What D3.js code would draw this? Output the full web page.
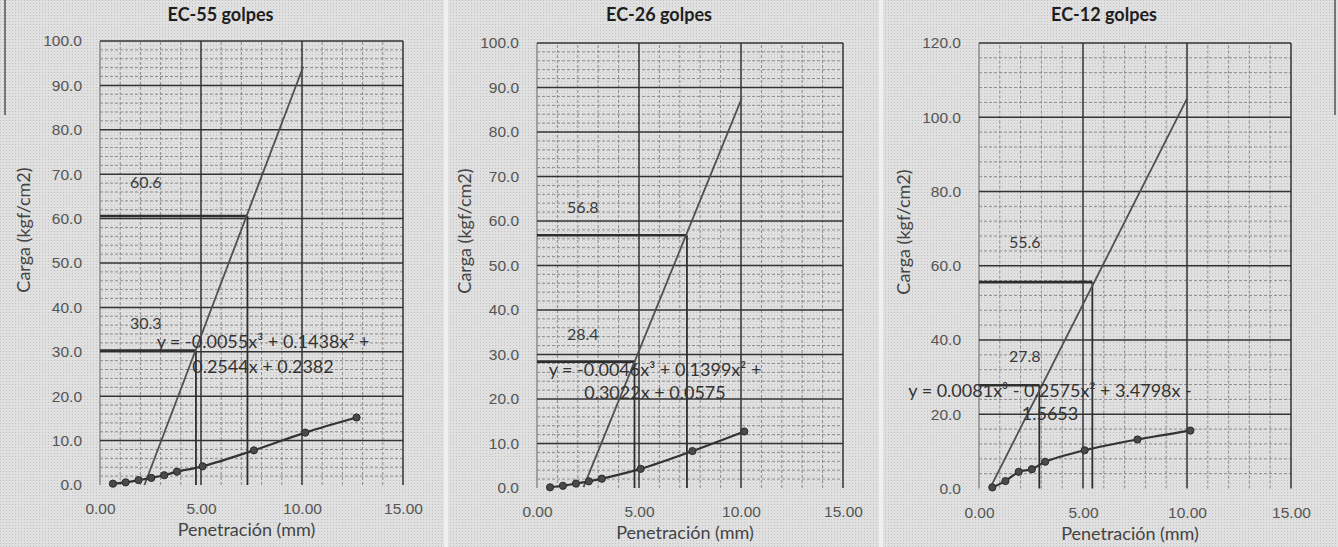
<!DOCTYPE html>
<html>
<head>
<meta charset="utf-8">
<script src="https://cdn.jsdelivr.net/npm/d3@7"></script>
<style>
  html, body { margin: 0; padding: 0; background: #dfdfdf; }
  svg { display: block; font-family: Lato, "Open Sans", sans-serif; }
</style>
</head>
<body>
<svg id="chart" width="1338" height="547"></svg>
<script>
// CBR penetration test, three compaction energies
// penetration (mm) and load (kgf/cm2)
var pen55  = [0.64, 1.27, 1.91, 2.54, 3.18, 3.81, 5.08, 7.62, 10.16, 12.70];
var load55 = [0.3, 0.6, 1.1, 1.6, 2.2, 3.0, 4.2, 7.8, 11.8, 15.2];
var pen26  = [0.64, 1.27, 1.91, 2.54, 3.18, 5.08, 7.62, 10.16];
var load26 = [0.15, 0.5, 1.0, 1.5, 2.1, 4.3, 8.3, 12.7];
var pen12  = [0.64, 1.27, 1.91, 2.54, 3.18, 5.08, 7.62, 10.16];
var load12 = [0.3, 2.0, 4.5, 5.2, 7.2, 10.3, 13.2, 15.6];

// corrected tangent line (start / end) for each test
var tan55X = [2.2, 10.06],  tan55Y = [0, 94.2];
var tan26X = [2.28, 10.04], tan26Y = [0.2, 87.6];
var tan12X = [0.55, 10.0],  tan12Y = [0.3, 105.0];

// corrected loads at 0.1" and 0.2" and the penetration where they sit
var cbr55Pen = [4.75, 7.30], cbr55Load = [30.3, 60.6];
var cbr26Pen = [4.78, 7.35], cbr26Load = [28.4, 56.8];
var cbr12Pen = [2.90, 5.45], cbr12Load = [27.8, 55.6];

// trendline equations as Excel printed them
var eq55 = ["y = -0.0055x\u00b3 + 0.1438x\u00b2 +", "0.2544x + 0.2382"];
var eq26 = ["y = -0.0046x\u00b3 + 0.1399x\u00b2 +", "0.3022x + 0.0575"];
var eq12 = ["y = 0.0081x\u00b3 - 0.2575x\u00b2 + 3.4798x -", "1.5653"];

var titles = ["EC-55 golpes", "EC-26 golpes", "EC-12 golpes"];
var xTicks = [0, 5, 10, 15];
var yTicks100 = [0, 10, 20, 30, 40, 50, 60, 70, 80, 90, 100];
var yTicks120 = [0, 20, 40, 60, 80, 100, 120];

var panels = [
  {title: titles[0], pen: pen55, load: load55, tanX: tan55X, tanY: tan55Y,
   cbrPen: cbr55Pen, cbrLoad: cbr55Load, eq: eq55, yTicks: yTicks100, yMinor: 2,
   left: 100, right: 403, top: 41, bottom: 485,
   labelDy: [27, 34], eqX: 263, eqY: 342, eqGap: 25, yTitleX: 24, yTitleY: 230},
  {title: titles[1], pen: pen26, load: load26, tanX: tan26X, tanY: tan26Y,
   cbrPen: cbr26Pen, cbrLoad: cbr26Load, eq: eq26, yTicks: yTicks100, yMinor: 2,
   left: 537, right: 843, top: 43, bottom: 488,
   labelDy: [27, 28], eqX: 655, eqY: 370, eqGap: 23, yTitleX: 465, yTitleY: 231},
  {title: titles[2], pen: pen12, load: load12, tanX: tan12X, tanY: tan12Y,
   cbrPen: cbr12Pen, cbrLoad: cbr12Load, eq: eq12, yTicks: yTicks120, yMinor: 4,
   left: 979, right: 1291, top: 43, bottom: 488.5,
   labelDy: [29, 40], eqX: 1050, eqY: 391, eqGap: 23, yTitleX: 904, yTitleY: 232}
];

var svg = d3.select("#chart");

// scanned paper look: fine dot screen
var defs = svg.append("defs");
defs.append("pattern").attr("id", "scan").attr("width", 3).attr("height", 3)
  .attr("patternUnits", "userSpaceOnUse")
  .append("rect").attr("width", 1).attr("height", 1).attr("fill", "#c2c2c2");
svg.append("rect").attr("width", 1338).attr("height", 547).attr("fill", "#e0e0e0");
svg.append("rect").attr("width", 1338).attr("height", 547).attr("fill", "url(#scan)");

// chart area separators and bits of the table frame
[446, 881].forEach(function(sx){
  svg.append("rect").attr("x", sx - 2).attr("y", 0).attr("width", 4).attr("height", 547)
    .attr("fill", "#f0f0f0");
});
svg.append("line").attr("x1", 5).attr("x2", 5).attr("y1", 0).attr("y2", 115)
  .attr("stroke", "#555").attr("stroke-width", 1.5);
svg.append("line").attr("x1", 1335).attr("x2", 1335).attr("y1", 0).attr("y2", 115)
  .attr("stroke", "#555").attr("stroke-width", 1.5);

function drawPanel(p) {
  var yMax = p.yTicks[p.yTicks.length - 1];
  var x = d3.scaleLinear().domain([0, 15]).range([p.left, p.right]);
  var y = d3.scaleLinear().domain([0, yMax]).range([p.bottom, p.top]);
  var g = svg.append("g");

  // minor gridlines (dashed)
  var xMinor = d3.range(1, 15).filter(function(v){ return v % 5 !== 0; });
  var yStep = p.yTicks[1];
  var yMinor = d3.range(p.yMinor, yMax, p.yMinor).filter(function(v){ return v % yStep !== 0; });
  g.selectAll(".vmin").data(xMinor).join("line")
    .attr("x1", x).attr("x2", x).attr("y1", y(0)).attr("y2", y(yMax))
    .attr("stroke", "#8c8c8c").attr("stroke-width", 1).attr("stroke-dasharray", "3,2");
  g.selectAll(".hmin").data(yMinor).join("line")
    .attr("x1", x(0)).attr("x2", x(15)).attr("y1", y).attr("y2", y)
    .attr("stroke", "#8c8c8c").attr("stroke-width", 1).attr("stroke-dasharray", "3,2");

  // major gridlines
  g.selectAll(".vmaj").data(xTicks).join("line")
    .attr("x1", x).attr("x2", x).attr("y1", y(0)).attr("y2", y(yMax))
    .attr("stroke", function(d){ return d === 0 ? "#8c8c8c" : "#333"; })
    .attr("stroke-width", 1.5);
  g.selectAll(".hmaj").data(p.yTicks.filter(function(d){ return d > 0; })).join("line")
    .attr("x1", x(0)).attr("x2", x(15)).attr("y1", y).attr("y2", y)
    .attr("stroke", "#333").attr("stroke-width", 1.5);

  // axes labels through d3 axes
  var ya = g.append("g").attr("transform", "translate(" + p.left + ",0)")
    .call(d3.axisLeft(y).tickValues(p.yTicks).tickFormat(d3.format(".1f")).tickSize(0).tickPadding(18));
  var xa = g.append("g").attr("transform", "translate(0," + p.bottom + ")")
    .call(d3.axisBottom(x).tickValues(xTicks).tickFormat(d3.format(".2f")).tickSize(0).tickPadding(18));
  [ya, xa].forEach(function(a){
    a.select(".domain").remove();
    a.selectAll("text").attr("font-size", 15.5).attr("fill", "#555").attr("font-family", null);
  });

  // corrected CBR guide lines
  p.cbrPen.forEach(function(cx, i){
    g.append("line").attr("x1", x(0)).attr("x2", x(cx))
      .attr("y1", y(p.cbrLoad[i])).attr("y2", y(p.cbrLoad[i]))
      .attr("stroke", "#2e2e2e").attr("stroke-width", 2.6);
    g.append("line").attr("x1", x(cx)).attr("x2", x(cx))
      .attr("y1", y(0)).attr("y2", y(p.cbrLoad[i]))
      .attr("stroke", "#2e2e2e").attr("stroke-width", 1.8);
    g.append("text").attr("x", x(0) + 30).attr("y", y(p.cbrLoad[i]) - p.labelDy[i])
      .attr("dy", "0.35em").attr("font-size", 16).attr("fill", "#3a3a3a")
      .text(p.cbrLoad[i].toFixed(1));
  });

  // tangent line
  g.append("line")
    .attr("x1", x(p.tanX[0])).attr("y1", y(p.tanY[0]))
    .attr("x2", x(p.tanX[1])).attr("y2", y(p.tanY[1]))
    .attr("stroke", "#505050").attr("stroke-width", 1.8);

  // measured curve
  var pts = p.pen.map(function(d, i){ return [d, p.load[i]]; });
  g.append("path").datum(pts)
    .attr("d", d3.line().x(function(d){ return x(d[0]); }).y(function(d){ return y(d[1]); })
      .curve(d3.curveCatmullRom))
    .attr("fill", "none").attr("stroke", "#333").attr("stroke-width", 2.2);
  g.selectAll(".pt").data(pts).join("circle")
    .attr("cx", function(d){ return x(d[0]); }).attr("cy", function(d){ return y(d[1]); })
    .attr("r", 3.6).attr("fill", "#4a4a4a").attr("stroke", "#2a2a2a").attr("stroke-width", 1);

  // trendline equation
  g.selectAll(".eq").data(p.eq).join("text")
    .attr("x", p.eqX).attr("y", function(d, i){ return p.eqY + i * p.eqGap; })
    .attr("dy", "0.35em").attr("text-anchor", "middle")
    .attr("font-size", 18).attr("fill", "#333").text(function(d){ return d; });

  // titles
  g.append("text").attr("x", (p.left + p.right) / 2 - 31).attr("y", 15).attr("dy", "0.35em")
    .attr("text-anchor", "middle").attr("font-weight", "bold").attr("font-size", 18)
    .attr("fill", "#1e1e1e").text(p.title);
  g.append("text").attr("x", (p.left + p.right) / 2 - 5).attr("y", p.bottom + 45).attr("dy", "0.35em")
    .attr("text-anchor", "middle").attr("font-size", 18).attr("fill", "#444")
    .text("Penetración (mm)");
  g.append("text")
    .attr("transform", "translate(" + p.yTitleX + "," + p.yTitleY + ") rotate(-90)")
    .attr("dy", "0.35em").attr("text-anchor", "middle").attr("font-size", 18).attr("fill", "#444")
    .text("Carga (kgf/cm2)");
}

panels.forEach(drawPanel);
</script>
</body>
</html>
